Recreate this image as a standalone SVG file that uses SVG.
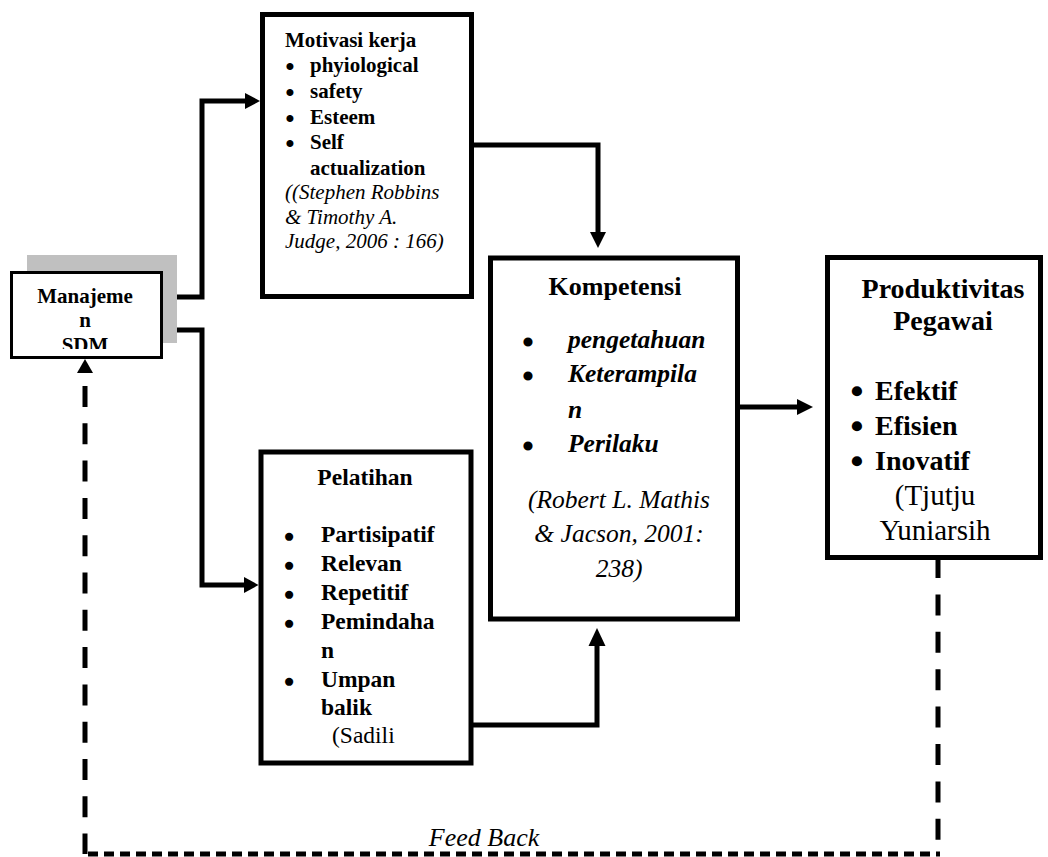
<svg xmlns="http://www.w3.org/2000/svg" width="1048" height="857" viewBox="0 0 1048 857">
<defs>
<style>
.box{fill:#fff;stroke:#000;stroke-width:5}
.con{fill:none;stroke:#000;stroke-width:5}
.dash{fill:none;stroke:#000;stroke-width:5}
.ah{fill:#000}
text{font-family:"Liberation Serif","Times New Roman",serif;fill:#000}
.b{font-weight:bold}
.i{font-style:italic}
.bu1{stroke:#000;stroke-width:2}
.bu2{stroke:#000;stroke-width:2.5}
.bu3{stroke:#000;stroke-width:3}
.bu4{stroke:#000;stroke-width:3.5}
</style>
<clipPath id="mclip"><rect x="10" y="270" width="155" height="79"/></clipPath>
</defs>
<rect width="1048" height="857" fill="#fff"/>

<g id="connectors">
<path class="con" d="M163,297 H202 V101 H247"/>
<polygon class="ah" points="260,101 245,93 245,109"/>
<path class="con" d="M163,330 H202 V585 H245"/>
<polygon class="ah" points="258.5,585 244,577 244,593"/>
<path class="con" d="M472,145 H598 V233"/>
<polygon class="ah" points="598,248 590,232 606,232"/>
<path class="con" d="M738,407 H798"/>
<polygon class="ah" points="813,407 797,399 797,415"/>
<path class="con" d="M471,725 H597 V645"/>
<polygon class="ah" points="597,628 588.5,646 605.5,646"/>
<path class="dash" d="M938,557 V854" stroke-dasharray="21 16.4"/>
<path class="dash" d="M88,854 H940" stroke-dasharray="10 6"/>
<path class="dash" d="M85,386 V854" stroke-dasharray="21 16.3"/>
<polygon class="ah" points="85,359 77,373 93,373"/>
<text class="i" x="484" y="846" font-size="26" text-anchor="middle">Feed Back</text>
</g>

<g id="manajemen">
<rect x="27" y="255" width="150" height="88" fill="#c0c0c0"/>
<rect x="11.5" y="272.5" width="150" height="85" fill="#fff" stroke="#000" stroke-width="3"/>
<g clip-path="url(#mclip)" class="b" font-size="21" text-anchor="middle">
<text x="85" y="303">Manajeme</text>
<text x="85" y="327">n</text>
<text x="85" y="352">SDM</text>
</g>
</g>

<g id="motivasi">
<rect class="box" x="262.5" y="14.5" width="209" height="282"/>
<g font-size="21">
<text class="b" x="285" y="47">Motivasi kerja</text>
<text class="bu1" x="286.3" y="74">•</text><text class="b" x="310" y="72">phyiological</text>
<text class="bu1" x="286.3" y="100">•</text><text class="b" x="310" y="98">safety</text>
<text class="bu1" x="286.3" y="126">•</text><text class="b" x="310" y="124">Esteem</text>
<text class="bu1" x="286.3" y="151">•</text><text class="b" x="310" y="149">Self</text>
<text class="b" x="310" y="175">actualization</text>
<text class="i" x="285" y="199">((Stephen Robbins</text>
<text class="i" x="285" y="224">&amp; Timothy A.</text>
<text class="i" x="285" y="248">Judge, 2006 : 166)</text>
</g>
</g>

<g id="kompetensi">
<rect class="box" x="490.5" y="258" width="247" height="361"/>
<text class="b" x="615" y="295" font-size="26" text-anchor="middle">Kompetensi</text>
<g font-size="25.5">
<text class="bu3" x="523.5" y="351">•</text><text class="b i" x="568" y="348">pengetahuan</text>
<text class="bu3" x="523.5" y="385">•</text><text class="b i" x="568" y="382">Keterampila</text>
<text class="b i" x="568" y="418">n</text>
<text class="bu3" x="523.5" y="455">•</text><text class="b i" x="568" y="452">Perilaku</text>
<g class="i" text-anchor="middle">
<text x="619" y="508">(Robert L. Mathis</text>
<text x="619" y="542">&amp; Jacson, 2001:</text>
<text x="619" y="577">238)</text>
</g>
</g>
</g>

<g id="pelatihan">
<rect class="box" x="261" y="452" width="210" height="311"/>
<g font-size="23.5">
<text class="b" x="365" y="485" text-anchor="middle">Pelatihan</text>
<text class="bu2" x="284.9" y="545">•</text><text class="b" x="321" y="542">Partisipatif</text>
<text class="bu2" x="284.9" y="574">•</text><text class="b" x="321" y="571">Relevan</text>
<text class="bu2" x="284.9" y="603">•</text><text class="b" x="321" y="600">Repetitif</text>
<text class="bu2" x="284.9" y="632">•</text><text class="b" x="321" y="629">Pemindaha</text>
<text class="b" x="321" y="658">n</text>
<text class="bu2" x="284.9" y="690">•</text><text class="b" x="321" y="687">Umpan</text>
<text class="b" x="321" y="715">balik</text>
<text x="332" y="743">(Sadili</text>
</g>
</g>

<g id="produktivitas">
<rect class="box" x="827.5" y="257.5" width="213" height="300"/>
<g font-size="28">
<text class="b" x="943" y="298" text-anchor="middle">Produktivitas</text>
<text class="b" x="943" y="330" text-anchor="middle">Pegawai</text>
<text class="bu4" x="852" y="401">•</text><text class="b" x="875" y="400">Efektif</text>
<text class="bu4" x="852" y="436">•</text><text class="b" x="875" y="435">Efisien</text>
<text class="bu4" x="852" y="471">•</text><text class="b" x="875" y="470">Inovatif</text>
<text x="935" y="505" font-size="29" text-anchor="middle">(Tjutju</text>
<text x="935" y="540" font-size="29" text-anchor="middle">Yuniarsih</text>
</g>
</g>
</svg>
